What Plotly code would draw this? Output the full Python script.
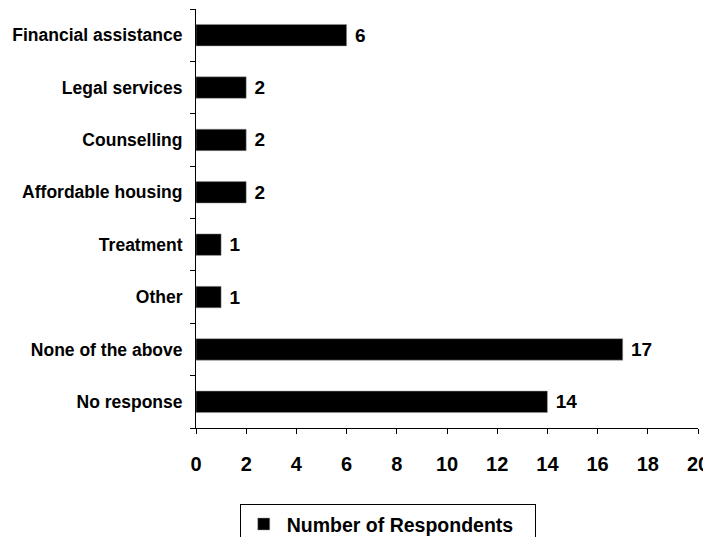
import plotly.graph_objects as go

# Categories listed top to bottom as in the chart
categories = [
    "Financial assistance",
    "Legal services",
    "Counselling",
    "Affordable housing",
    "Treatment",
    "Other",
    "None of the above",
    "No response",
]
respondents = [6, 2, 2, 2, 1, 1, 17, 14]
x_ticks = [0, 2, 4, 6, 8, 10, 12, 14, 16, 18, 20]

font_family = "Liberation Sans, Arial, sans-serif"

fig = go.Figure()
fig.add_trace(go.Bar(
    x=respondents,
    y=categories,
    orientation="h",
    name="<b>Number of Respondents</b>\u00a0\u00a0\u00a0",
    marker=dict(color="black", line=dict(color="#999999", width=0.5)),
    width=0.41,
    text=respondents,
    texttemplate="\u00a0<b>%{x}</b>",
    textposition="outside",
    textfont=dict(family=font_family, size=19, color="black"),
    cliponaxis=False,
))

# page has an 8px body margin, so the figure is sized to fit inside the window
# autoexpand off: the legend box runs off the bottom edge like in the original
fig.update_layout(
    width=703,
    height=529,
    margin=dict(l=188, r=13, t=1, b=109, autoexpand=False),
    plot_bgcolor="white",
    paper_bgcolor="white",
    font=dict(family=font_family, color="black"),
    showlegend=True,
    legend=dict(
        orientation="h",
        x=0.382, xanchor="center",
        y=-0.181, yanchor="top",
        bordercolor="black",
        borderwidth=1,
        font=dict(family=font_family, size=19.5, color="black"),
        itemwidth=36,
    ),
)

fig.update_xaxes(
    range=[0, 20],
    tickvals=x_ticks,
    ticktext=[f"<b>{v}</b>" for v in x_ticks],
    tickfont=dict(family=font_family, size=20, color="black"),
    showgrid=False,
    zeroline=False,
    showline=True,
    linecolor="black",
    linewidth=1,
    ticks="outside",
    ticklen=5,
    tickcolor="black",
    ticklabelstandoff=13,
    ticklabeloverflow="allow",
    automargin=False,
)

fig.update_yaxes(
    categoryorder="array",
    categoryarray=categories,
    autorange="reversed",
    tickvals=categories,
    ticktext=[f"<b>{c}</b>" for c in categories],
    tickfont=dict(family=font_family, size=17.5, color="black"),
    showgrid=False,
    showline=True,
    linecolor="black",
    linewidth=1,
    ticks="outside",
    tickson="boundaries",
    ticklen=5,
    tickcolor="black",
    ticklabelstandoff=9,
    automargin=False,
)

fig.write_html("out.html")
